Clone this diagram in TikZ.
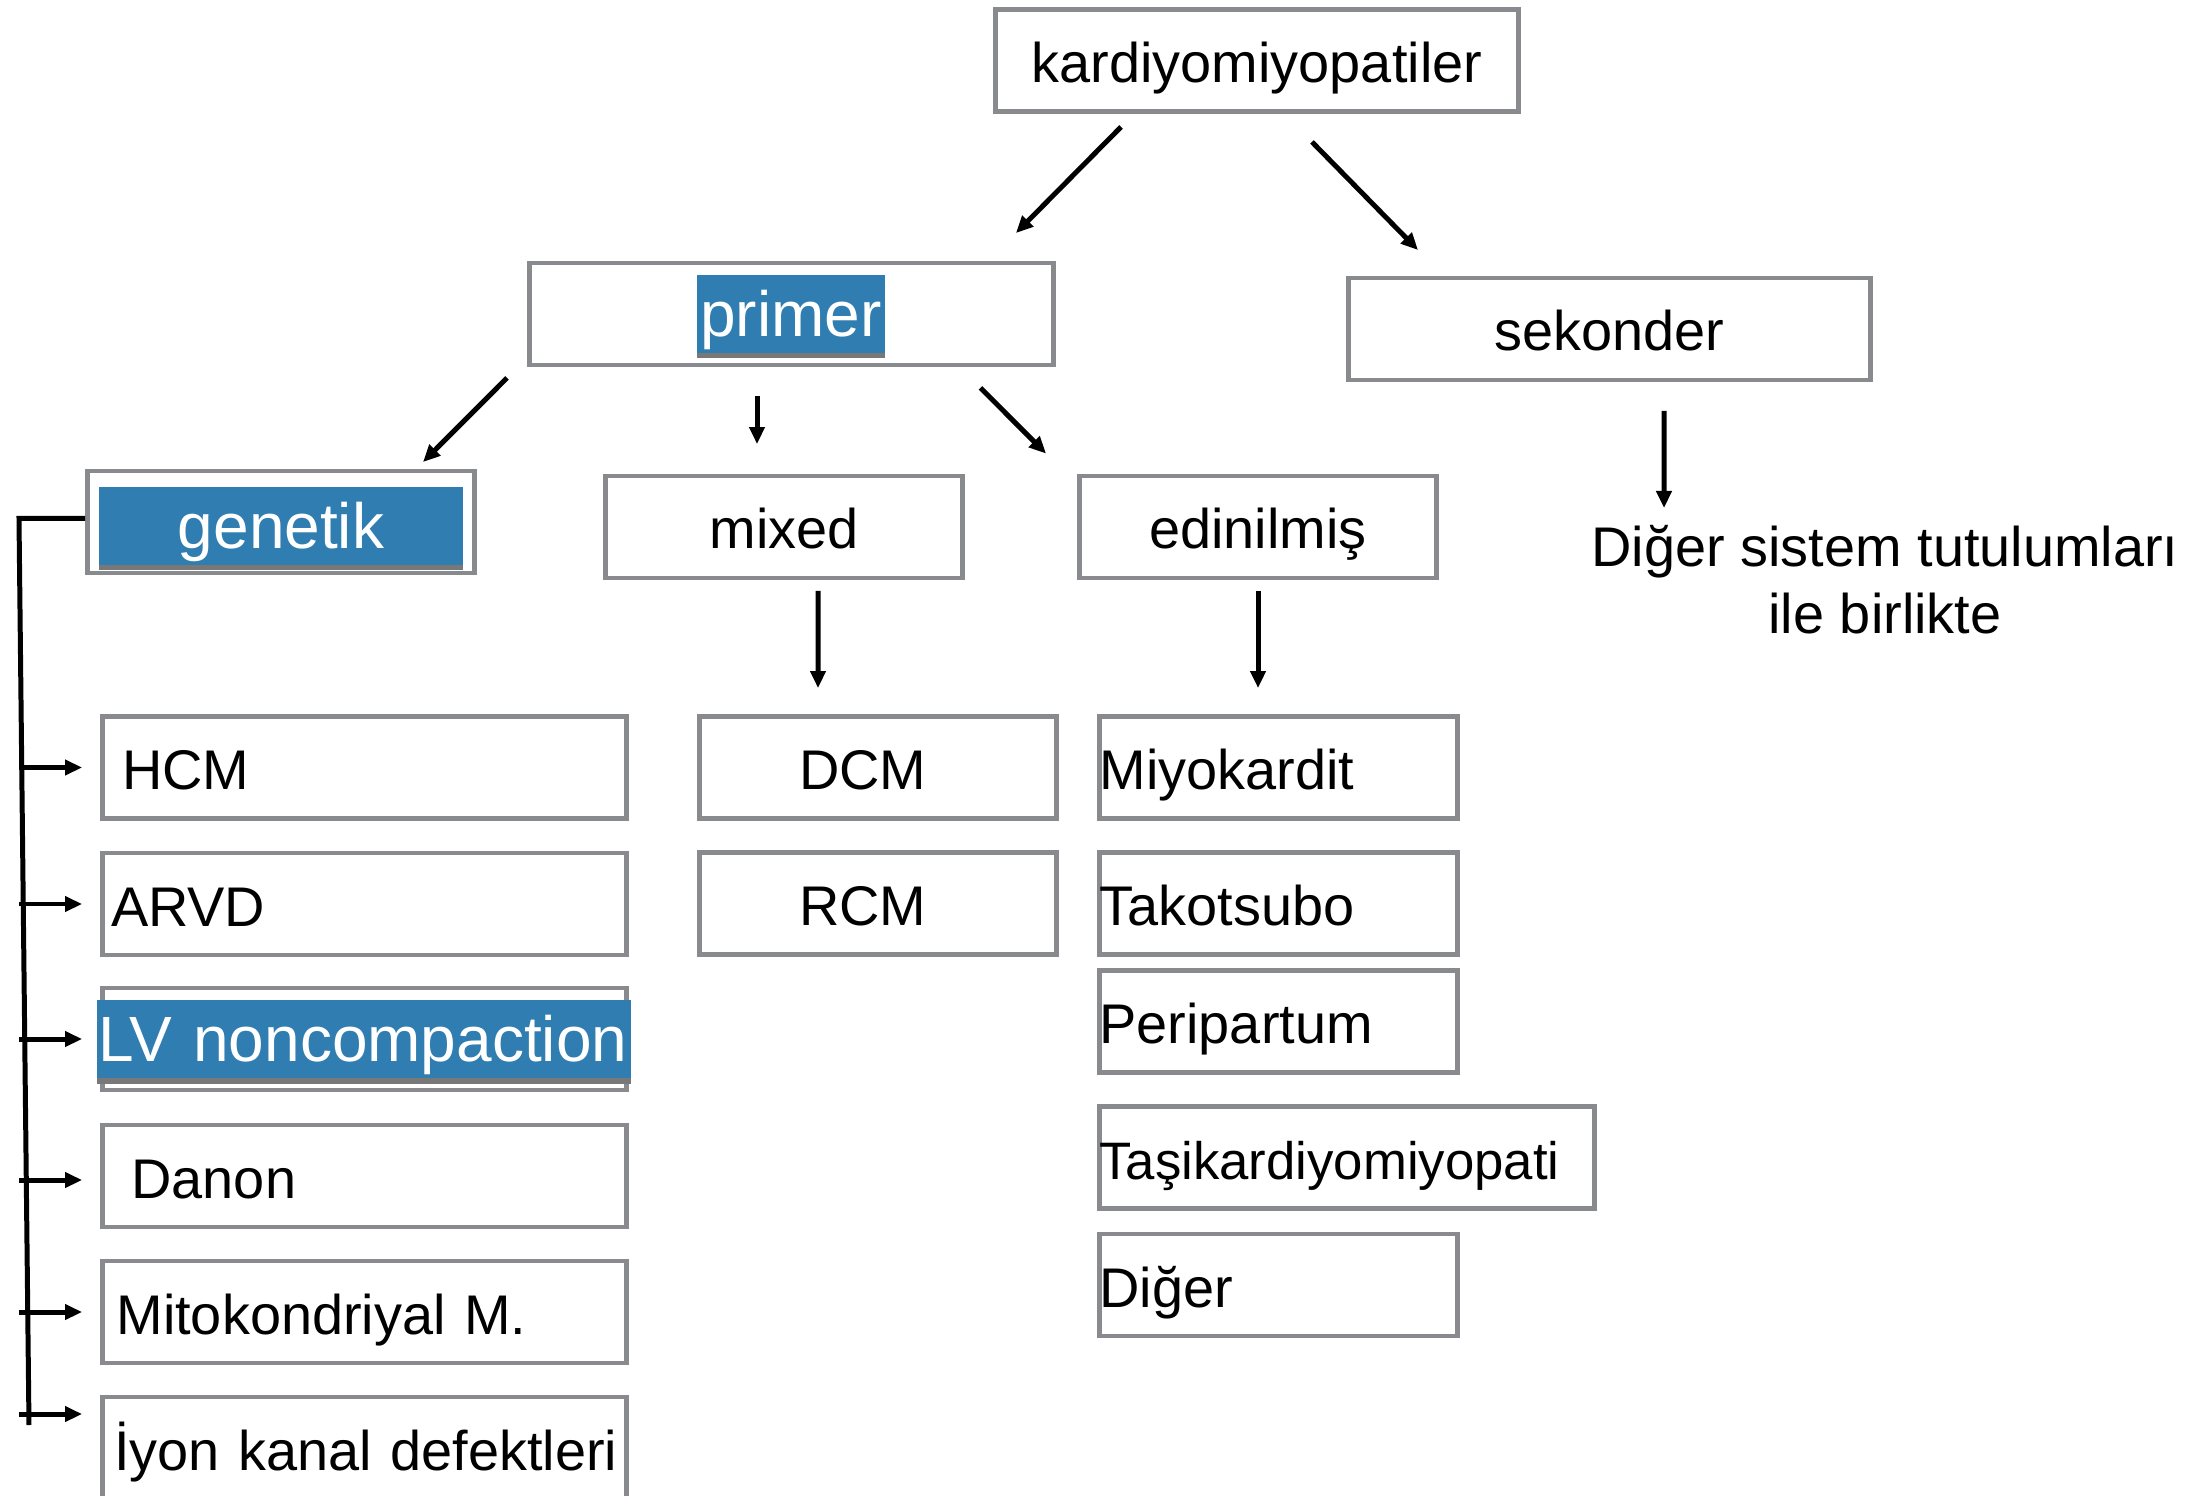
\documentclass[tikz,border=0pt]{standalone}
\usepackage{fontspec}
\setmainfont{Liberation Sans}
\usepackage{tikz}
\usetikzlibrary{arrows.meta,shadows}
\definecolor{boxgray}{RGB}{136,138,141}
\definecolor{hlblue}{RGB}{47,125,177}
\definecolor{hlshade}{RGB}{120,120,120}
\newcommand{\bodysize}{\fontsize{15.9}{19.05}\selectfont}
\newcommand{\hlsize}{\fontsize{18.2}{22}\selectfont}
\newcommand{\smallbodysize}{\fontsize{15}{18}\selectfont}

\begin{document}
\begin{tikzpicture}
\tikzset{box/.style = {shape=rectangle,draw=boxgray,line width=1.4pt,minimum height=1.02cm,inner sep=0pt,text height=0.44cm,text depth=0pt,font=\bodysize}}
\tikzset{hl/.style = {shape=rectangle,fill=hlblue,text=white,inner sep=0pt,text height=0.45cm,text depth=0pt,font=\hlsize,drop shadow={shadow xshift=0cm,shadow yshift=-0.055cm,fill=hlshade,opacity=1}}}
\tikzset{edge/.style = {->,> = {Triangle[length=0.17cm,width=0.15cm]},line width=1.42pt}}
\tikzset{stem/.style = {line width=1.42pt}}

\useasboundingbox (0,0) rectangle (21.97,-14.96);

% vertices
\node[box,minimum width=5.23cm] (kard) at (12.57,-0.605) {kardiyomiyopatiler};
\node[box,minimum width=5.24cm] (primer) at (7.915,-3.14) {};
\node[hl,minimum width=1.88cm,minimum height=0.775cm] (primerhl) at (7.91,-3.1425) {primer};
\node[box,minimum width=5.22cm] (sekonder) at (16.095,-3.29) {sekonder};
\node[box,minimum width=3.87cm] (genetik) at (2.81,-5.22) {};
\node[hl,minimum width=3.64cm,minimum height=0.78cm] (genetikhl) at (2.81,-5.26) {genetik};
\node[box,minimum width=3.57cm] (mixed) at (7.84,-5.27) {mixed};
\node[box,minimum width=3.57cm] (edinilmis) at (12.58,-5.27) {edinilmiş};
\node[align=center,anchor=north,inner sep=0pt,font=\bodysize] (diger) at (18.85,-5.245) {Diğer sistem tutulumları\\ile birlikte};

% genetik
\node[box,minimum width=5.24cm,text width=4.85cm,inner xsep=0.195cm,align=left] (hcm) at (3.645,-7.675) {HCM};
\node[box,minimum width=5.24cm,text width=5.07cm,inner xsep=0.085cm,align=left] (arvd) at (3.645,-9.04) {ARVD};
\node[box,minimum width=5.24cm] (lvnc) at (3.645,-10.39) {};
\node[hl,minimum width=5.34cm,minimum height=0.783cm,text width=5.30cm,inner xsep=0.02cm,align=left] (lvnchl) at (3.636,-10.392) {\mbox{LV noncompaction}};
\node[box,minimum width=5.24cm,text width=4.66cm,inner xsep=0.29cm,align=left] (danon) at (3.645,-11.76) {Danon};
\node[box,minimum width=5.24cm,text width=4.96cm,inner xsep=0.14cm,align=left] (mito) at (3.645,-13.12) {Mitokondriyal M.};
\node[box,minimum width=5.24cm,text width=5.01cm,inner xsep=0.115cm,align=left] (iyon) at (3.645,-14.48) {\mbox{İyon kanal defektleri}};

% mixed
\node[box,minimum width=3.57cm,text width=1.58cm,inner xsep=0.995cm,align=left] (dcm) at (8.78,-7.675) {DCM};
\node[box,minimum width=3.57cm,text width=1.58cm,inner xsep=0.995cm,align=left] (rcm) at (8.78,-9.035) {RCM};

% edinilmis
\node[box,minimum width=3.58cm,text width=3.58cm,align=left] (miyo) at (12.785,-7.675) {Miyokardit};
\node[box,minimum width=3.58cm,text width=3.58cm,align=left] (tako) at (12.785,-9.033) {Takotsubo};
\node[box,minimum width=3.58cm,text width=3.58cm,align=left] (peri) at (12.785,-10.215) {Peripartum};
\node[box,minimum width=4.95cm,text width=4.95cm,align=left,font=\smallbodysize] (tasi) at (13.47,-11.575) {\mbox{Taşikardiyomiyopati}};
\node[box,minimum width=3.58cm,text width=3.58cm,align=left] (diger2) at (12.785,-12.85) {Diğer};

\coordinate (sptop) at (0.19,-5.184);
\coordinate (spbot) at (0.29,-14.25);

%edges
\draw[edge] ([shift={(-1.36,-0.13)}]kard.south) to ([shift={(2.245,0.275)}]primer.north);
\draw[edge] ([shift={(0.55,-0.28)}]kard.south) to ([shift={(-1.915,0.255)}]sekonder.north);
\draw[edge] ([shift={(-2.845,-0.105)}]primer.south) to ([shift={(1.42,0.065)}]genetik.north);
\draw[edge] ([shift={(-0.345,-0.285)}]primer.south) to ([shift={(-0.27,0.295)}]mixed.north);
\draw[edge] ([shift={(1.89,-0.205)}]primer.south) to ([shift={(-2.12,0.20)}]edinilmis.north);
\draw[edge] ([shift={(0.545,-0.285)}]sekonder.south) to ([shift={(-2.21,0.165)}]diger.north);
\draw[edge] ([shift={(0.34,-0.105)}]mixed.south) to ([shift={(-0.60,0.26)}]dcm.north);
\draw[edge] ([shift={(0,-0.105)}]edinilmis.south) to ([shift={(-0.205,0.26)}]miyo.north);

\draw[stem] ([yshift=0.036cm]genetik.west) -- (sptop) -- (spbot);
\draw[edge] (sptop |- hcm.west) to ([xshift=-0.18cm]hcm.west);
\draw[edge] (sptop |- arvd.west) to ([xshift=-0.18cm]arvd.west);
\draw[edge] (sptop |- lvnc.west) to ([xshift=-0.18cm]lvnc.west);
\draw[edge] ([yshift=-0.04cm]sptop |- danon.west) to ([shift={(-0.18,-0.04)}]danon.west);
\draw[edge] (sptop |- mito.west) to ([xshift=-0.18cm]mito.west);
\draw[edge] ([yshift=0.34cm]sptop |- iyon.west) to ([shift={(-0.18,0.34)}]iyon.west);

\end{tikzpicture}
\end{document}
